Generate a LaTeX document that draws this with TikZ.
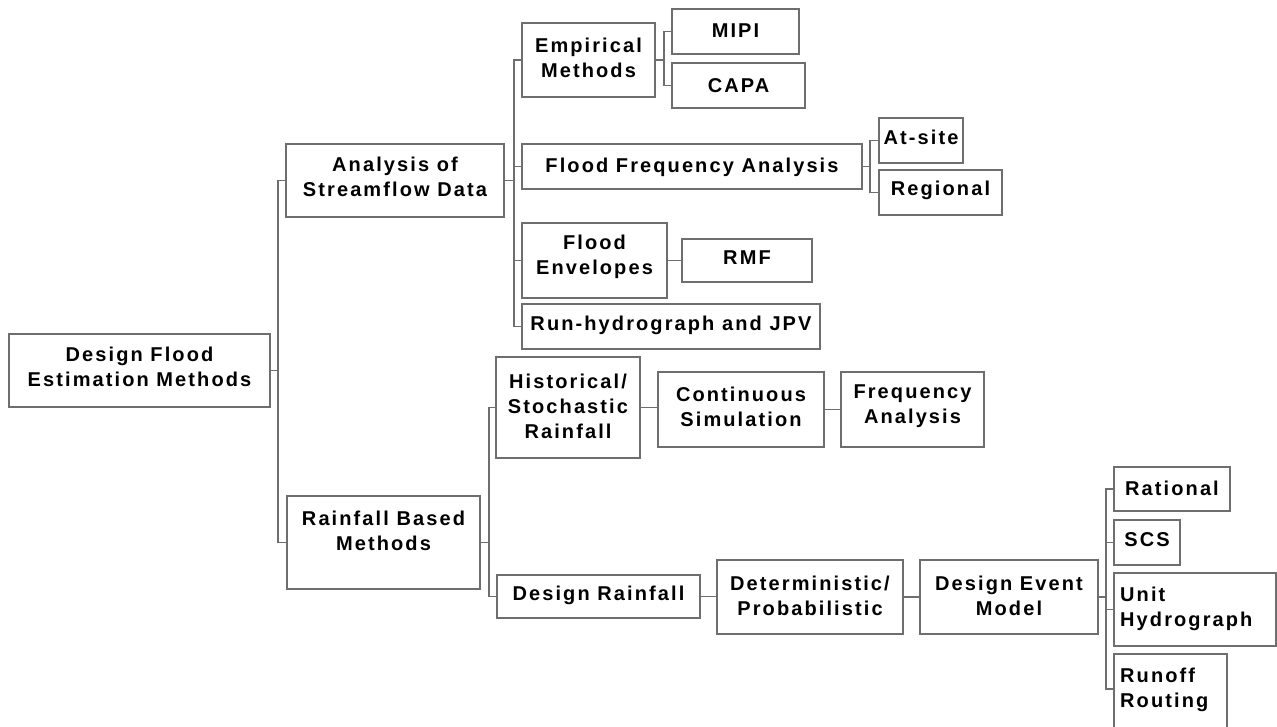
\documentclass[tikz,border=0pt]{standalone}
\usepackage{fontspec}
\newfontfamily\lbfont{Liberation Sans}[LetterSpace=10.5]
\usetikzlibrary{calc}
\definecolor{linegray}{RGB}{110,110,110}
\tikzset{
  box/.style={draw=linegray, line width=1.2pt, inner sep=0pt, outer sep=0pt, fill=white},
  lbl/.style={font=\lbfont\bfseries\fontsize{20}{25}\selectfont, align=center, inner sep=0pt, text=black},
  conn/.style={draw=linegray, line width=1.2pt}
}
\newcommand\bx[5]{\node[box, minimum width={#4-#2}, minimum height={#5-#3}] (#1) at ({(#2+#4)/2},{(#3+#5)/2}) {};}
\begin{document}
\begin{tikzpicture}[x=1pt,y=-1pt]
\useasboundingbox (0,0) rectangle (1277,727);
\clip (0,0) rectangle (1277,727);
\fill[white] (0,0) rectangle (1277,727);
% boxes
\bx{root}{9}{334}{270}{407}
\bx{stream}{286}{144}{504}{217}
\bx{rain}{287}{496}{480}{589}
\bx{emp}{522}{23}{655}{97}
\bx{mipi}{672}{9}{799}{54}
\bx{capa}{672}{63}{805}{108}
\bx{ffa}{522}{144}{862}{189}
\bx{atsite}{879}{118}{963}{163}
\bx{regional}{879}{170}{1002}{215}
\bx{env}{522}{223}{667}{298}
\bx{rmf}{682}{239}{812}{282}
\bx{runh}{522}{304}{820}{349}
\bx{hist}{496}{357}{640}{458}
\bx{cont}{658}{372}{824}{447}
\bx{freq}{841}{372}{984}{447}
\bx{drain}{497}{575}{700}{618}
\bx{det}{717}{560}{903}{634}
\bx{dem}{920}{560}{1098}{634}
\bx{rational}{1114}{467}{1230}{511}
\bx{scs}{1114}{520}{1180}{565}
\bx{unit}{1114}{573}{1276}{646}
\bx{runoff}{1114}{654}{1227}{745}
% texts
\node[lbl] (root-t) at ($(root.center)+(0,-4)$) {Design Flood\\Estimation Methods};
\node[lbl] (stream-t) at ($(stream.center)+(0,-3.5)$) {Analysis of\\Streamflow Data};
\node[lbl] (rain-t) at ($(rain.center)+(0,-11.5)$) {Rainfall Based\\Methods};
\node[lbl] (emp-t) at ($(emp.center)+(0,-2)$) {Empirical\\Methods};
\node[lbl] (mipi-t) at ($(mipi.center)+(0,-1)$) {MIPI};
\node[lbl] (capa-t) at ($(capa.center)+(0,0.5)$) {CAPA};
\node[lbl] (ffa-t) at ($(ffa.center)+(0,0.5)$) {Flood Frequency Analysis};
\node[lbl] (atsite-t) at ($(atsite.center)+(0,-3)$) {At-site};
\node[lbl] (regional-t) at ($(regional.center)+(0,-2)$) {Regional};
\node[lbl] (env-t) at ($(env.center)+(0,-4)$) {Flood\\Envelopes};
\node[lbl] (rmf-t) at ($(rmf.center)+(0,-3)$) {RMF};
\node[lbl] (runh-t) at ($(runh.center)+(0,-1)$) {Run-hydrograph and JPV};
\node[lbl] (hist-t) at ($(hist.center)+(0,-1)$) {Historical/\\Stochastic\\Rainfall};
\node[lbl] (cont-t) at ($(cont.center)+(0,-3)$) {Continuous\\Simulation};
\node[lbl] (freq-t) at ($(freq.center)+(0,-3)$) {Frequency\\Analysis};
\node[lbl] (drain-t) at ($(drain.center)+(0,-1)$) {Design Rainfall};
\node[lbl] (det-t) at ($(det.center)+(0,-1.5)$) {Deterministic/\\Probabilistic};
\node[lbl] (dem-t) at ($(dem.center)+(0,-1.5)$) {Design Event\\Model};
\node[lbl] (rational-t) at ($(rational.center)+(0,-0.5)$) {Rational};
\node[lbl] (scs-t) at ($(scs.center)+(0,-3)$) {SCS};
\node[lbl, align=left, anchor=west] (unit-t) at ($(unit.west)+(6,-1)$) {Unit\\Hydrograph};
\node[lbl, align=left, anchor=west] (runoff-t) at ($(runoff.north west)+(6,35.5)$) {Runoff\\Routing};
% connectors
\coordinate (t1) at ($(root.east)+(8,0)$);
\draw[conn] (root.east) -- (t1);
\draw[conn] (t1) |- (stream.west);
\draw[conn] (t1) |- (rain.west);
\coordinate (t2) at ($(stream.east)+(10,0)$);
\draw[conn] (stream.east) -- (t2);
\draw[conn] (t2) |- (emp.west);
\draw[conn] (t2) |- (ffa.west);
\draw[conn] (t2) |- (env.west);
\draw[conn] (t2) |- (runh.west);
\coordinate (t3) at ($(emp.east)+(9,0)$);
\draw[conn] (emp.east) -- (t3);
\draw[conn] (t3) |- (mipi.west);
\draw[conn] (t3) |- (capa.west);
\coordinate (t4) at ($(ffa.east)+(8,0)$);
\draw[conn] (ffa.east) -- (t4);
\draw[conn] (t4) |- (atsite.west);
\draw[conn] (t4) |- (regional.west);
\draw[conn] (env.east) -- (rmf.west);
\coordinate (t5) at ($(rain.east)+(9,0)$);
\draw[conn] (rain.east) -- (t5);
\draw[conn] (t5) |- (hist.west);
\draw[conn] (t5) |- (drain.west);
\draw[conn] (hist.east) -- (hist.east -| cont.west);
\draw[conn] (cont.east) -- (freq.west);
\draw[conn] (drain.east) -- (drain.east -| det.west);
\draw[conn] (det.east) -- (dem.west);
\coordinate (t6) at ($(dem.east)+(8,0)$);
\coordinate (rw) at ($(runoff.north west)+(0,35)$);
\draw[conn] (dem.east) -- (t6);
\draw[conn] (t6) |- (rational.west);
\draw[conn] (t6) |- (scs.west);
\draw[conn] (t6) |- (unit.west);
\draw[conn] (t6) |- (rw);
\end{tikzpicture}
\end{document}
